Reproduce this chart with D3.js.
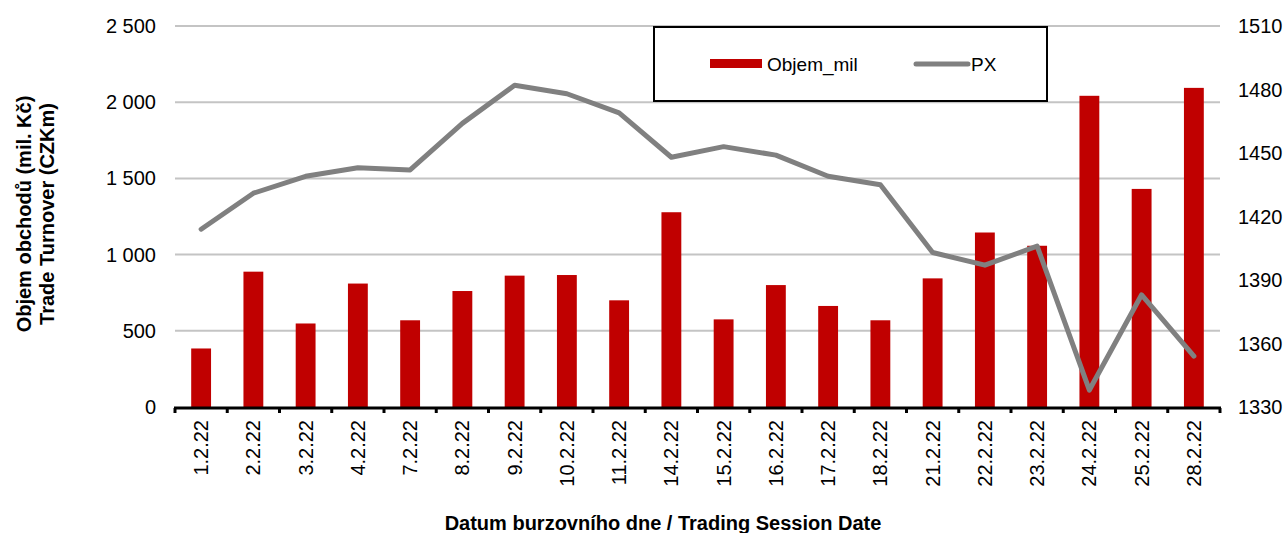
<!DOCTYPE html>
<html>
<head>
<meta charset="utf-8">
<script src="https://cdn.jsdelivr.net/npm/d3@7"></script>
<style>
  body { margin: 0; background: #fff; }
  svg { display: block; font-family: 'Liberation Sans', Arial, sans-serif; }
</style>
</head>
<body>
<svg id="chart" width="1287" height="533"></svg>
<script>
'use strict';

// Data
const dates = ['1.2.22', '2.2.22', '3.2.22', '4.2.22', '7.2.22', '8.2.22', '9.2.22',
  '10.2.22', '11.2.22', '14.2.22', '15.2.22', '16.2.22', '17.2.22', '18.2.22',
  '21.2.22', '22.2.22', '23.2.22', '24.2.22', '25.2.22', '28.2.22'];
const objemMil = [384, 888, 548, 810, 569, 761, 862, 866, 700, 1278, 575, 800,
  663, 569, 844, 1145, 1058, 2042, 1431, 2094];
const px = [1414, 1431, 1439, 1443, 1442, 1464, 1482, 1478, 1469, 1448, 1453,
  1449, 1439, 1435, 1403, 1397, 1406, 1338, 1383, 1354];
const leftTicks = [0, 500, 1000, 1500, 2000, 2500];
const rightTicks = [1330, 1360, 1390, 1420, 1450, 1480, 1510];

const BAR_COLOR = '#c00000';
const LINE_COLOR = '#808080';
const GRID_COLOR = '#c4c4c4';
const FONT_SIZE = 20;

const plot = { left: 175, right: 1220, top: 26, bottom: 407 };

const svg = d3.select('#chart');

const x = d3.scaleBand()
  .domain(dates)
  .range([plot.left, plot.right])
  .paddingInner(0.62)
  .paddingOuter(0.31);

const xStep = (plot.right - plot.left) / dates.length;

const yLeft = d3.scaleLinear()
  .domain([0, 2500])
  .range([plot.bottom, plot.top]);

const yRight = d3.scaleLinear()
  .domain([1330, 1510])
  .range([plot.bottom, plot.top]);

const fmtSpace = v => d3.format(',')(v).replace(/,/g, ' ');

// Gridlines
svg.append('g')
  .attr('class', 'grid')
  .selectAll('line')
  .data(leftTicks.filter(d => d > 0))
  .enter()
  .append('line')
    .attr('x1', plot.left)
    .attr('x2', plot.right)
    .attr('y1', d => yLeft(d))
    .attr('y2', d => yLeft(d))
    .attr('stroke', GRID_COLOR)
    .attr('stroke-width', 2);

// Bars
svg.append('g')
  .attr('class', 'bars')
  .selectAll('rect')
  .data(objemMil)
  .enter()
  .append('rect')
    .attr('x', (d, i) => x(dates[i]))
    .attr('y', d => yLeft(d))
    .attr('width', x.bandwidth())
    .attr('height', d => yLeft(0) - yLeft(d))
    .attr('fill', BAR_COLOR);

// X axis line + ticks
const axisG = svg.append('g').attr('class', 'x-axis');

axisG.append('line')
  .attr('x1', plot.left - 1)
  .attr('x2', plot.right + 1)
  .attr('y1', plot.bottom + 1)
  .attr('y2', plot.bottom + 1)
  .attr('stroke', '#000')
  .attr('stroke-width', 3);

axisG.selectAll('.tick-mark')
  .data(d3.range(dates.length + 1))
  .enter()
  .append('line')
    .attr('class', 'tick-mark')
    .attr('x1', i => plot.left + i * xStep)
    .attr('x2', i => plot.left + i * xStep)
    .attr('y1', plot.bottom + 1)
    .attr('y2', plot.bottom + 6)
    .attr('stroke', '#000')
    .attr('stroke-width', 3);

axisG.selectAll('.tick-label')
  .data(dates)
  .enter()
  .append('text')
    .attr('class', 'tick-label')
    .attr('transform', d => 'translate(' + (x(d) + x.bandwidth() / 2 + 7) + ',' + (plot.bottom + 13) + ') rotate(-90)')
    .attr('text-anchor', 'end')
    .attr('font-size', FONT_SIZE)
    .attr('fill', '#000')
    .text(d => d);

// PX line
const line = d3.line()
  .x((d, i) => x(dates[i]) + x.bandwidth() / 2)
  .y(d => yRight(d));

svg.append('path')
  .datum(px)
  .attr('d', line)
  .attr('fill', 'none')
  .attr('stroke', LINE_COLOR)
  .attr('stroke-width', 5)
  .attr('stroke-linejoin', 'round')
  .attr('stroke-linecap', 'round');

// Left axis labels
svg.append('g')
  .selectAll('text')
  .data(leftTicks)
  .enter()
  .append('text')
    .attr('x', 156)
    .attr('y', d => yLeft(d))
    .attr('dy', '0.35em')
    .attr('text-anchor', 'end')
    .attr('font-size', FONT_SIZE)
    .text(d => fmtSpace(d));

// Right axis labels
svg.append('g')
  .selectAll('text')
  .data(rightTicks)
  .enter()
  .append('text')
    .attr('x', 1238)
    .attr('y', d => yRight(d))
    .attr('dy', '0.35em')
    .attr('text-anchor', 'start')
    .attr('font-size', FONT_SIZE)
    .text(d => d);

// Axis titles
svg.append('text')
  .attr('transform', 'translate(31,214) rotate(-90)')
  .attr('text-anchor', 'middle')
  .attr('font-size', FONT_SIZE)
  .attr('font-weight', 'bold')
  .call(t => {
    t.append('tspan').attr('x', 0).attr('dy', 0).text('Objem obchodů (mil. Kč)');
    t.append('tspan').attr('x', 0).attr('dy', 23).text('Trade Turnover (CZKm)');
  });

svg.append('text')
  .attr('x', 663)
  .attr('y', 530)
  .attr('text-anchor', 'middle')
  .attr('font-size', FONT_SIZE)
  .attr('font-weight', 'bold')
  .text('Datum burzovního dne / Trading Session Date');

// Legend
const legend = svg.append('g').attr('class', 'legend');

legend.append('rect')
  .attr('x', 654)
  .attr('y', 27)
  .attr('width', 393)
  .attr('height', 74)
  .attr('fill', '#fff')
  .attr('stroke', '#000')
  .attr('stroke-width', 2);

legend.append('rect')
  .attr('x', 710)
  .attr('y', 59)
  .attr('width', 52)
  .attr('height', 9)
  .attr('fill', BAR_COLOR);

legend.append('text')
  .attr('x', 767)
  .attr('y', 64)
  .attr('dy', '0.35em')
  .attr('font-size', 19)
  .text('Objem_mil');

legend.append('line')
  .attr('x1', 916)
  .attr('x2', 968)
  .attr('y1', 64)
  .attr('y2', 64)
  .attr('stroke', LINE_COLOR)
  .attr('stroke-width', 5)
  .attr('stroke-linecap', 'round');

legend.append('text')
  .attr('x', 971)
  .attr('y', 64)
  .attr('dy', '0.35em')
  .attr('font-size', 19)
  .text('PX');
</script>
</body>
</html>
